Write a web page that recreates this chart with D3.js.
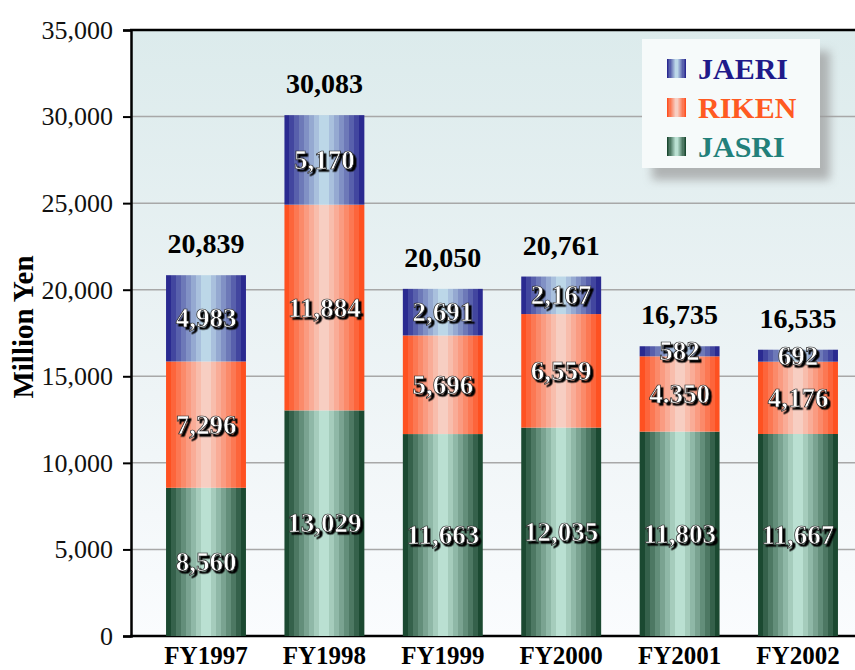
<!DOCTYPE html>
<html lang="en">
<head>
  <meta charset="UTF-8">
  <title>Million Yen</title>
  <style>
    body { margin: 0; background: #fff; }
    svg text { font-family: "Liberation Serif", Tinos, "Times New Roman", Times, serif !important; }
  </style>
</head>
<body>
  <script src="https://cdn.jsdelivr.net/npm/d3@7"></script>
  <script>
    const years = ['FY1997', 'FY1998', 'FY1999', 'FY2000', 'FY2001', 'FY2002'];
    const jasri = [8560, 13029, 11663, 12035, 11803, 11667];
    const riken = [7296, 11884, 5696, 6559, 4350, 4176];
    const jaeri = [4983, 5170, 2691, 2167, 582, 692];
    // the picture prints 4,350 as "4.350"
    const rikenText = ['7,296', '11,884', '5,696', '6,559', '4.350', '4,176'];
    const yTicks = [0, 5000, 10000, 15000, 20000, 25000, 30000, 35000];

    const W = 855, H = 670;
    const plotL = 131, plotT = 30, plotB = 636;
    const fmt = d3.format(',');

    const svg = d3.select('body').append('svg').attr('width', W).attr('height', H);
    const defs = svg.append('defs');

    // banded gradient: dark at the edges, light in the middle
    function stripes(id, dark, light) {
      const g = defs.append('linearGradient').attr('id', id)
        .attr('x1', 0).attr('x2', 1).attr('y1', 0).attr('y2', 0);
      const n = 16;
      const c = d3.interpolateRgb(dark, light);
      for (let i = 0; i < n; i++) {
        const t = 1 - Math.abs((i + 0.5) / n * 2 - 1);
        const col = c(Math.pow(t, 0.9));
        g.append('stop').attr('offset', i / n).attr('stop-color', col);
        g.append('stop').attr('offset', (i + 1) / n).attr('stop-color', col);
      }
    }
    stripes('gBlue', '#1c1a88', '#c6e2ee');
    stripes('gRed', '#ff4512', '#f6d6cc');
    stripes('gGreen', '#0c3a22', '#c4eadc');

    const bg = defs.append('linearGradient').attr('id', 'gBg')
      .attr('x1', 0).attr('x2', 0).attr('y1', 0).attr('y2', 1);
    bg.append('stop').attr('offset', 0).attr('stop-color', '#dcebec');
    bg.append('stop').attr('offset', 0.6).attr('stop-color', '#eef4f6');
    bg.append('stop').attr('offset', 1).attr('stop-color', '#fafcfe');

    const blur = defs.append('filter').attr('id', 'blur').attr('x', -0.2).attr('y', -0.2)
      .attr('width', 1.4).attr('height', 1.4);
    blur.append('feGaussianBlur').attr('stdDeviation', 5);

    const drop = defs.append('filter').attr('id', 'drop').attr('x', -0.1).attr('y', -0.2)
      .attr('width', 1.3).attr('height', 1.5);
    drop.append('feDropShadow').attr('dx', 2.5).attr('dy', 2.5).attr('stdDeviation', 0.4)
      .attr('flood-color', '#000').attr('flood-opacity', 1);

    const x = d3.scaleBand().domain(years).range([146.8, 857.2])
      .paddingInner(0.325).paddingOuter(0.1625);
    const y = d3.scaleLinear().domain([0, 35000]).range([plotB, plotT]);

    // plot background
    svg.append('rect').attr('x', plotL).attr('y', plotT).attr('width', W - plotL)
      .attr('height', plotB - plotT).attr('fill', 'url(#gBg)');

    // gridlines
    svg.append('g').selectAll('line').data(yTicks.filter(d => d > 0 && d < 35000)).join('line')
      .attr('x1', plotL).attr('x2', W).attr('y1', d => y(d)).attr('y2', d => y(d))
      .attr('stroke', '#a8a8a8').attr('stroke-width', 1.5);

    // y axis
    const yAxis = svg.append('g').attr('transform', `translate(${plotL},0)`)
      .call(d3.axisLeft(y).tickValues(yTicks).tickFormat(fmt).tickSize(8).tickPadding(10));
    yAxis.attr('font-family', null);
    yAxis.select('.domain').attr('stroke', '#000').attr('stroke-width', 2.5);
    yAxis.selectAll('.tick line').attr('stroke', '#000').attr('stroke-width', 2);
    yAxis.selectAll('.tick text').attr('font-size', 26).attr('fill', '#111');

    // top and bottom frame lines
    svg.append('line').attr('x1', plotL - 1).attr('x2', W).attr('y1', plotT).attr('y2', plotT)
      .attr('stroke', '#000').attr('stroke-width', 2.5);
    svg.append('line').attr('x1', plotL - 1).attr('x2', W).attr('y1', plotB).attr('y2', plotB)
      .attr('stroke', '#000').attr('stroke-width', 2.5);

    svg.append('text').attr('transform', 'translate(33,327) rotate(-90)')
      .attr('text-anchor', 'middle').attr('font-size', 29).attr('font-weight', 'bold')
      .text('Million Yen');

    // x labels
    svg.append('g').selectAll('text').data(years).join('text')
      .attr('x', d => x(d) + x.bandwidth() / 2).attr('y', 664)
      .attr('text-anchor', 'middle').attr('font-size', 25).attr('font-weight', 'bold')
      .text(d => d);

    const series = [
      { key: 'JASRI', values: jasri, fill: 'url(#gGreen)', text: jasri.map(fmt) },
      { key: 'RIKEN', values: riken, fill: 'url(#gRed)', text: rikenText },
      { key: 'JAERI', values: jaeri, fill: 'url(#gBlue)', text: jaeri.map(fmt) }
    ];

    const segs = [];
    years.forEach((yr, i) => {
      let base = 0;
      series.forEach(s => {
        segs.push({ yr, y0: base, y1: base + s.values[i], fill: s.fill, label: s.text[i] });
        base += s.values[i];
      });
    });

    svg.append('g').selectAll('rect').data(segs).join('rect')
      .attr('x', d => x(d.yr)).attr('width', x.bandwidth())
      .attr('y', d => y(d.y1)).attr('height', d => y(d.y0) - y(d.y1))
      .attr('fill', d => d.fill);

    // segment labels: white with a dark drop shadow
    svg.append('g').attr('font-size', 27).attr('font-weight', 'bold')
      .attr('text-anchor', 'middle')
      .selectAll('text').data(segs).join('text')
      .attr('x', d => x(d.yr) + x.bandwidth() / 2)
      .attr('y', d => y((d.y0 + d.y1) / 2) + 9)
      .attr('fill', '#fff').attr('stroke', '#222').attr('stroke-width', 0.7)
      .attr('filter', 'url(#drop)')
      .text(d => d.label);

    // totals
    const totals = years.map((yr, i) => ({ yr, v: jasri[i] + riken[i] + jaeri[i] }));
    svg.append('g').selectAll('text').data(totals).join('text')
      .attr('x', d => x(d.yr) + x.bandwidth() / 2).attr('y', d => y(d.v) - 22)
      .attr('text-anchor', 'middle').attr('font-size', 28).attr('font-weight', 'bold')
      .text(d => fmt(d.v));

    // legend
    const lg = svg.append('g').attr('transform', 'translate(642,39)');
    lg.append('rect').attr('x', 10).attr('y', 12).attr('width', 178).attr('height', 129)
      .attr('fill', '#9a9a9a').attr('opacity', 0.7).attr('filter', 'url(#blur)');
    lg.append('rect').attr('width', 178).attr('height', 129).attr('fill', '#f6fafa');
    const legendItems = [
      { name: 'JAERI', fill: 'url(#gBlue)', color: '#1f1a8a' },
      { name: 'RIKEN', fill: 'url(#gRed)', color: '#ff5a22' },
      { name: 'JASRI', fill: 'url(#gGreen)', color: '#22807a' }
    ];
    const li = lg.selectAll('g.item').data(legendItems).join('g').attr('class', 'item')
      .attr('transform', (d, i) => `translate(0,${29 + i * 39})`);
    li.append('rect').attr('x', 25).attr('y', -9).attr('width', 19).attr('height', 19)
      .attr('fill', d => d.fill);
    li.append('text').attr('x', 56).attr('y', 11).attr('font-size', 30)
      .attr('font-weight', 'bold').attr('fill', d => d.color).text(d => d.name);
  </script>
</body>
</html>
